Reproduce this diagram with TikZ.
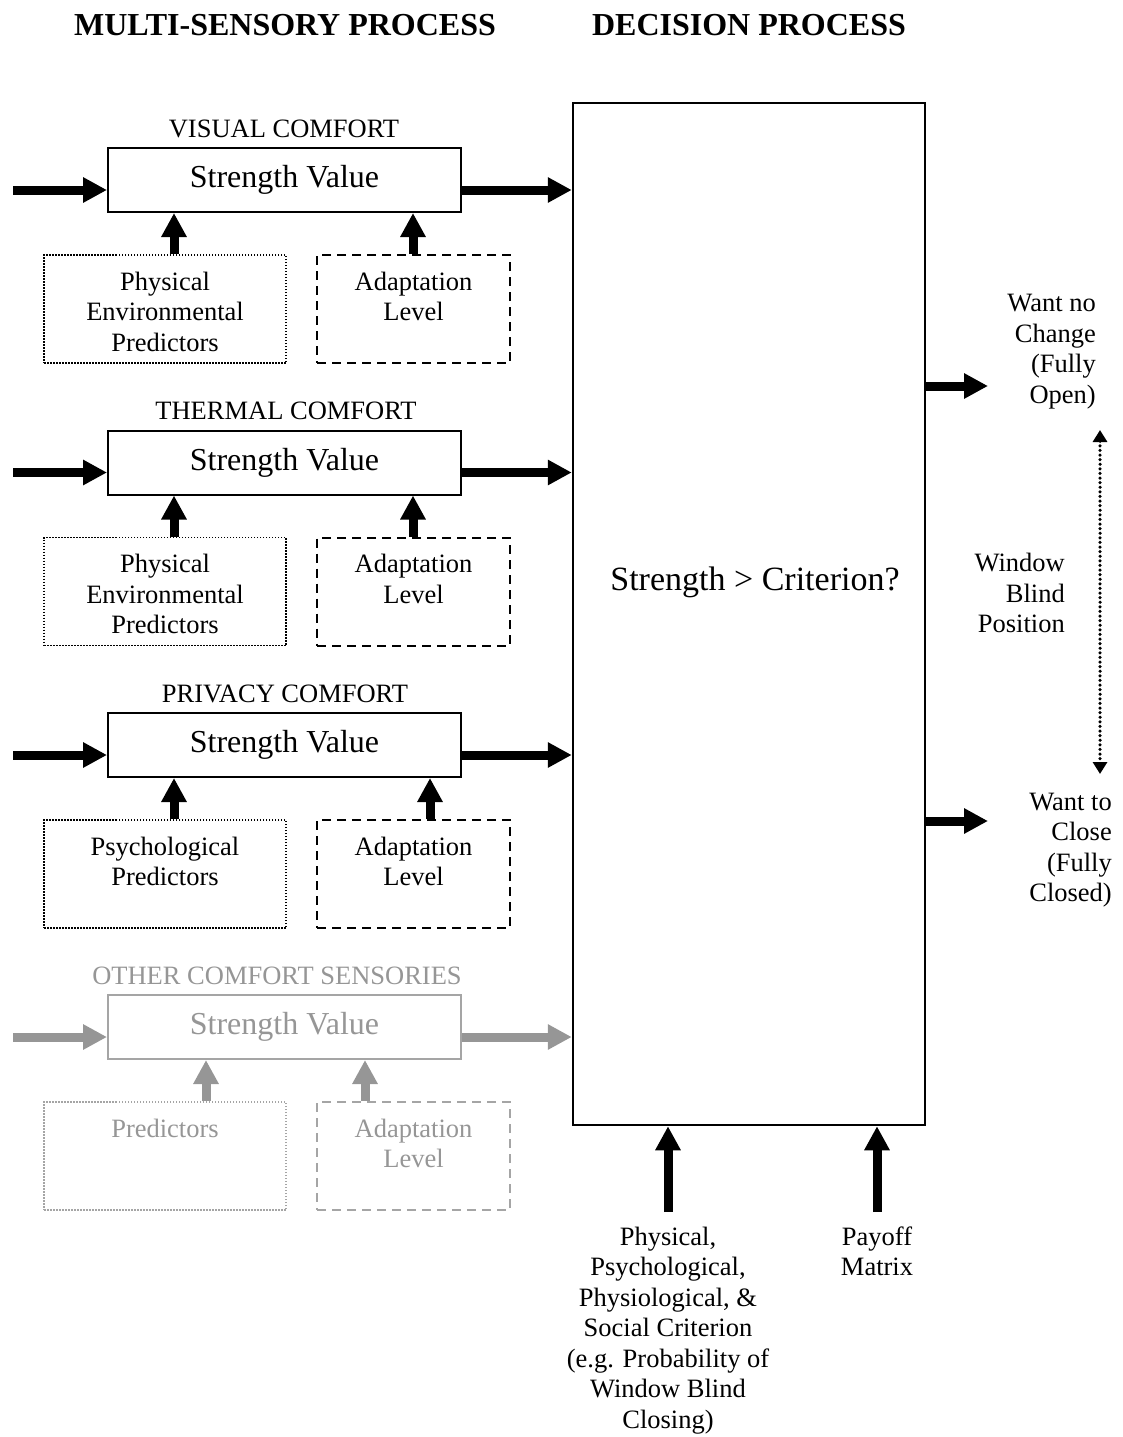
\documentclass[tikz,border=0pt]{standalone}
\usepackage{fontspec}
\setmainfont{Liberation Serif}
\usetikzlibrary{arrows.meta}
\definecolor{textgrey}{RGB}{150,150,150}
\definecolor{boxgrey}{RGB}{165,165,165}
\definecolor{arrgrey}{RGB}{150,150,150}
\newcommand\smallfnt{\fontsize{26.5}{30.5}\selectfont}
\newcommand\bigfnt{\fontsize{32}{36}\selectfont}
\newcommand\critfnt{\fontsize{34}{38}\selectfont}
\newcommand\headfnt{\fontsize{32}{36}\selectfont\bfseries}
\begin{document}
\begin{tikzpicture}[x=1pt,y=-1pt,
  fat/.style={line width=9pt,-{Triangle[width=24pt,length=24pt]}},
  svbox/.style={draw,line width=2pt,minimum width=353pt,minimum height=64pt,inner sep=0pt,font=\bigfnt,text height=22pt,text depth=7pt},
  dotbox/.style={draw,line width=1.5pt,dash pattern=on 1.5pt off 1.5pt,minimum width=242pt,minimum height=108pt,inner sep=0pt},
  dashbox/.style={draw,line width=2pt,dash pattern=on 9pt off 6pt,minimum width=193pt,minimum height=108pt,inner sep=0pt},
  ml/.style={font=\smallfnt,align=center,inner sep=0pt,anchor=north},
  ttl/.style={font=\smallfnt,inner sep=0pt,anchor=base},
  head/.style={font=\headfnt,inner sep=0pt,anchor=base},
  bigbox/.style={draw,line width=2.5pt,minimum width=352pt,minimum height=1022pt,inner sep=0pt}
]
\useasboundingbox (0,0) rectangle (1123,1437);

% headings
\node[head] (h1) at (285,36) {MULTI-SENSORY PROCESS};
\node[head] (h2) at (749,36) {DECISION PROCESS};

% decision box
\node[bigbox] (big) at (749,614) {};
\node[font=\critfnt,inner sep=0pt,anchor=base] (crit) at (755,590) {Strength > Criterion?};

% ---------- group 1: visual ----------
\node[ttl] (t1) at (284,137) {VISUAL COMFORT};
\node[svbox] (s1) at (284.5,180) {Strength Value};
\node[dotbox] (p1) at (165,309) {};
\node[dashbox] (d1) at (413.5,309) {};
\node[ml] (pt1) at (165,268.65) {\strut Physical\\\strut Environmental\\\strut Predictors};
\node[ml] (dt1) at (413.5,268.65) {\strut Adaptation\\\strut Level};
\coordinate (i1) at (13,190);
\coordinate (a1) at (174,0);
\coordinate (b1) at (413,0);
\draw[fat] (i1) -- (i1 -| s1.west);
\draw[fat] (i1 -| s1.east) -- (i1 -| big.west);
\draw[fat] (p1.north -| a1) -- (s1.south -| a1);
\draw[fat] (d1.north -| b1) -- (s1.south -| b1);

% ---------- group 2: thermal ----------
\node[ttl] (t2) at (286,419.5) {THERMAL COMFORT};
\node[svbox] (s2) at (284.5,462.5) {Strength Value};
\node[dotbox] (p2) at (165,591.5) {};
\node[dashbox] (d2) at (413.5,591.5) {};
\node[ml] (pt2) at (165,551.15) {\strut Physical\\\strut Environmental\\\strut Predictors};
\node[ml] (dt2) at (413.5,551.15) {\strut Adaptation\\\strut Level};
\coordinate (i2) at (13,472.5);
\coordinate (a2) at (174,0);
\coordinate (b2) at (413,0);
\draw[fat] (i2) -- (i2 -| s2.west);
\draw[fat] (i2 -| s2.east) -- (i2 -| big.west);
\draw[fat] (p2.north -| a2) -- (s2.south -| a2);
\draw[fat] (d2.north -| b2) -- (s2.south -| b2);

% ---------- group 3: privacy ----------
\node[ttl] (t3) at (285,702) {PRIVACY COMFORT};
\node[svbox] (s3) at (284.5,745) {Strength Value};
\node[dotbox] (p3) at (165,874) {};
\node[dashbox] (d3) at (413.5,874) {};
\node[ml] (pt3) at (165,833.65) {\strut Psychological\\\strut Predictors};
\node[ml] (dt3) at (413.5,833.65) {\strut Adaptation\\\strut Level};
\coordinate (i3) at (13,755);
\coordinate (a3) at (174,0);
\coordinate (b3) at (430,0);
\draw[fat] (i3) -- (i3 -| s3.west);
\draw[fat] (i3 -| s3.east) -- (i3 -| big.west);
\draw[fat] (p3.north -| a3) -- (s3.south -| a3);
\draw[fat] (d3.north -| b3) -- (s3.south -| b3);

% ---------- group 4: other (grey) ----------
\node[ttl,text=textgrey] (t4) at (277,984) {OTHER COMFORT SENSORIES};
\node[svbox,draw=boxgrey,text=textgrey] (s4) at (284.5,1027) {Strength Value};
\node[dotbox,draw=boxgrey] (p4) at (165,1156) {};
\node[dashbox,draw=boxgrey] (d4) at (413.5,1156) {};
\node[ml,text=textgrey] (pt4) at (165,1115.65) {\strut Predictors};
\node[ml,text=textgrey] (dt4) at (413.5,1115.65) {\strut Adaptation\\\strut Level};
\coordinate (i4) at (13,1037);
\coordinate (a4) at (206,0);
\coordinate (b4) at (365,0);
\draw[fat,arrgrey] (i4) -- (i4 -| s4.west);
\draw[fat,arrgrey] (i4 -| s4.east) -- (i4 -| big.west);
\draw[fat,arrgrey] (p4.north -| a4) -- (s4.south -| a4);
\draw[fat,arrgrey] (d4.north -| b4) -- (s4.south -| b4);

% ---------- outputs ----------
\coordinate (o1) at (988,386);
\coordinate (o2) at (988,821);
\draw[fat] (o1 -| big.east) -- (o1);
\draw[fat] (o2 -| big.east) -- (o2);
\node[ml,align=right,anchor=north east] (wn) at (1096,290.35) {\strut Want no\\\strut Change\\\strut (Fully\\\strut Open)};
\node[ml,align=right,anchor=north east] (wc) at (1112,788.65) {\strut Want to\\\strut Close\\\strut (Fully\\\strut Closed)};
\node[ml,align=right,anchor=north east] (wb) at (1065,550.35) {\strut Window\\\strut Blind\\\strut Position};
\coordinate (dtop) at (1100,430);
\coordinate (dbot) at (1100,774);
\draw[line width=3.5pt,line cap=round,dash pattern=on 0pt off 4.6pt,
  {Triangle[width=14pt,length=12pt]}-{Triangle[width=14pt,length=12pt]}] (dtop) -- (dbot);

% ---------- bottom inputs ----------
\coordinate (c1) at (668,1212);
\coordinate (c2) at (877,1212);
\draw[fat] (c1) -- (c1 |- big.south);
\draw[fat] (c2) -- (c2 |- big.south);
\node[ml] (crt) at (668,1223.65) {\strut Physical,\\\strut Psychological,\\\strut Physiological, \&\\\strut Social Criterion\\\strut (e.g. Probability of\\\strut Window Blind\\\strut Closing)};
\node[ml] (pay) at (877,1223.65) {\strut Payoff\\\strut Matrix};
\end{tikzpicture}
\end{document}
